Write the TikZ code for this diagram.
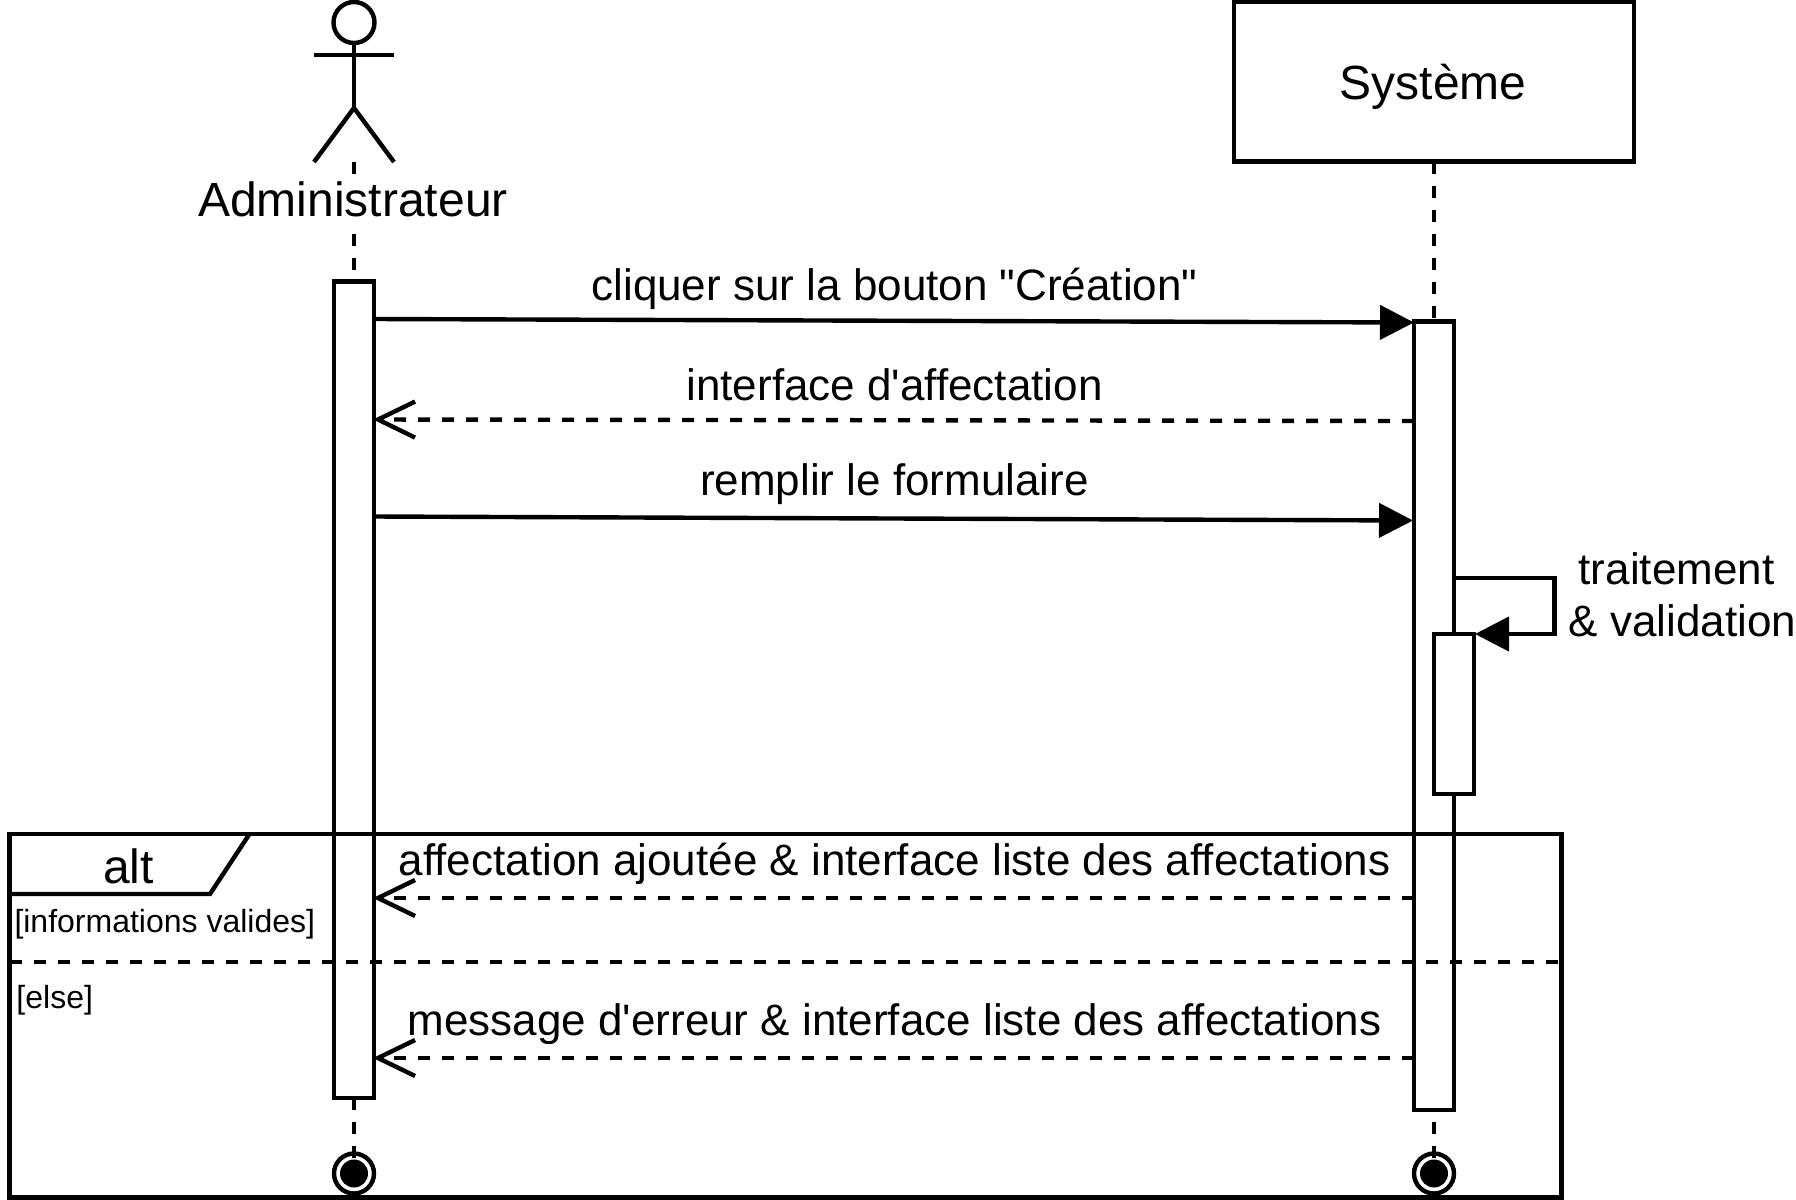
\documentclass[tikz,border=0pt]{standalone}
\usepackage{fontspec}
\usetikzlibrary{arrows.meta,calc}
\newfontfamily\lab{Liberation Sans}[Ligatures=NoCommon]
\tikzset{
  base/.style={line width=2.2pt,black},
  lifeline/.style={base,dash pattern=on 6pt off 6pt},
  bar/.style={base,draw,fill=white,rectangle,minimum width=20pt,inner sep=0pt,outer sep=0pt},
  callmsg/.style={base,-{Triangle[length=17pt,width=17pt]}},
  replymsg/.style={base,dash pattern=on 6pt off 6pt,-{Straight Barb[length=18.5pt,width=18pt,line width=2.2pt]}},
  big/.style={font=\lab\fontsize{24pt}{25.5pt}\selectfont,inner sep=0pt,outer sep=0pt,text=black},
  msgtxt/.style={font=\lab\fontsize{22pt}{26pt}\selectfont,inner sep=0pt,outer sep=0pt,text=black},
  small/.style={font=\lab\fontsize{16pt}{19pt}\selectfont,inner sep=0pt,outer sep=0pt,anchor=base west,text=black}
}
\begin{document}
\begin{tikzpicture}[x=0.5pt,y=-0.5pt]
\useasboundingbox (0,0) rectangle (1796,1200);
% end markers
\node[base,draw,fill=white,circle,minimum size=20pt,inner sep=0pt,outer sep=0pt] (endA) at (354,1173.5) {};
\node[fill=black,circle,minimum size=14pt,inner sep=0pt,outer sep=0pt] (endAd) at (354,1173.5) {};
\node[base,draw,fill=white,circle,minimum size=20pt,inner sep=0pt,outer sep=0pt] (endS) at (1434,1173.5) {};
\node[fill=black,circle,minimum size=14pt,inner sep=0pt,outer sep=0pt] (endSd) at (1434,1173.5) {};
% actor
\node[base,draw,circle,minimum size=20.5pt,inner sep=0pt,outer sep=0pt] (head) at (354,22.5) {};
\coordinate (armL) at (314,55);
\coordinate (armR) at (394,55);
\coordinate (hip) at (354,108);
\coordinate (legL) at (314,162);
\coordinate (legR) at (394,162);
\draw[base] (head.south) -- (hip);
\draw[base] (armL) -- (armR);
\draw[base] (legL) -- (hip) -- (legR);
% Systeme
\node[base,draw,rectangle,minimum width=200pt,minimum height=80pt,inner sep=0pt,outer sep=0pt] (sys) at (1434,81.5) {};
\node[big,anchor=base] (sysT) at (1433,99) {Système};
% lifelines
\coordinate (lifeAtop) at (354,162);
\coordinate (lifeAend) at (354,1158);
\coordinate (lifeSend) at (1434,1158);
\draw[lifeline] (lifeAtop) -- (lifeAend);
\draw[lifeline] (sys.south) -- (lifeSend);
\node[big,anchor=base,fill=white,inner sep=3pt] (actorT) at (353,216) {Administrateur};
% activations
\node[bar,minimum height=408.25pt] (actA) at (354,689.75) {};
\node[bar,minimum height=394.25pt] (actS) at (1434,715.75) {};
\node[bar,minimum height=80pt] (actI) at (1454,714) {};
% messages
\coordinate (m1a) at ($(actA.north east)+(0,37.5)$);
\coordinate (m1b) at ($(actS.north west)+(0,1)$);
\draw[callmsg] (m1a) -- (m1b);
\node[msgtxt,anchor=base] (m1t) at (894.5,300) {cliquer sur la bouton "Création"};
\coordinate (m2a) at ($(actS.north west)+(0,99.5)$);
\coordinate (m2b) at ($(actA.north east)+(-1,138)$);
\draw[replymsg] (m2a) -- (m2b);
\node[msgtxt,anchor=base] (m2t) at (894.5,400) {interface d'affectation};
\coordinate (m3a) at ($(actA.north east)+(0,235)$);
\coordinate (m3b) at ($(actS.north west)+(-1,199)$);
\draw[callmsg] (m3a) -- (m3b);
\node[msgtxt,anchor=base] (m3t) at (894.5,495.5) {remplir le formulaire};
% self message
\coordinate (selfA) at ($(actS.north east)+(0,256.5)$);
\coordinate (selfB) at (1554.5,578);
\coordinate (selfC) at (1554.5,634);
\coordinate (selfD) at ($(actI.north east)+(1,0)$);
\draw[callmsg] (selfA) -- (selfB) -- (selfC) -- (selfD);
\node[msgtxt,align=center,anchor=center] (selfT) at (1676.5,594.5) {traitement\\\hspace*{0.278em}\& validation};
% alt replies
\coordinate (m4a) at ($(actS.north west)+(0,576.5)$);
\coordinate (m4b) at ($(actA.north east)+(-1,616.5)$);
\draw[replymsg] (m4a) -- (m4b);
\node[msgtxt,anchor=base] (m4t) at (894.5,875) {affectation ajoutée \& interface liste des affectations};
\coordinate (m5a) at ($(actS.north west)+(0,736.5)$);
\coordinate (m5b) at ($(actA.north east)+(-1,776.5)$);
\draw[replymsg] (m5a) -- (m5b);
\node[msgtxt,anchor=base] (m5t) at (894.5,1035) {message d'erreur \& interface liste des affectations};
% alt frame
\node[base,draw,rectangle,minimum width=776pt,minimum height=181.75pt,inner sep=0pt,outer sep=0pt] (frame) at (785.6,1015.75) {};
\coordinate (tabA) at (9.6,894);
\coordinate (tabB) at (210,894);
\coordinate (tabC) at (249.5,834);
\draw[base] (tabA) -- (tabB) -- (tabC);
\node[big,anchor=base] (altT) at (128.5,883) {alt};
\node[small] (g1) at (14.5,932) {[informations valides]};
\coordinate (divA) at (9.6,962);
\coordinate (divB) at (1561.6,962);
\draw[lifeline] (divA) -- (divB);
\node[small] (g2) at (16.5,1008) {[else]};
\end{tikzpicture}
\end{document}
